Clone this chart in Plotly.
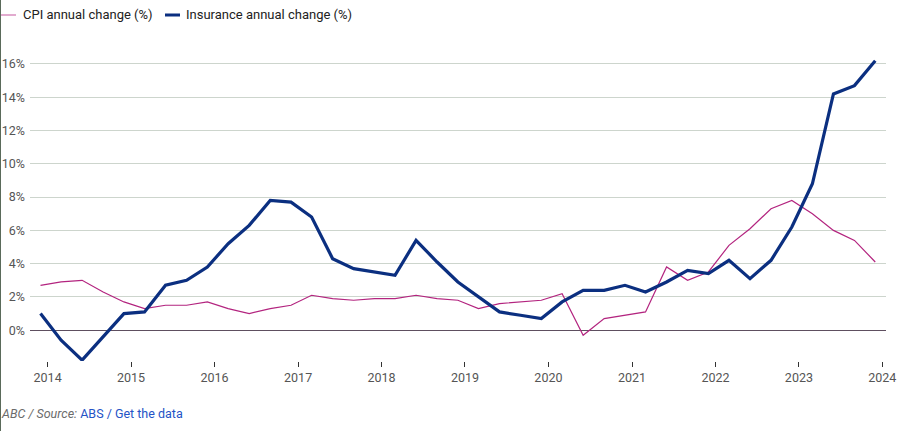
import pandas as pd
import plotly.graph_objects as go

# quarterly, plotted on the 1st of the quarter's last month
dates = pd.date_range("2013-12-01", "2023-12-01", freq="3MS")

cpi = [2.7, 2.9, 3.0, 2.3, 1.7, 1.3, 1.5, 1.5, 1.7, 1.3, 1.0, 1.3, 1.5,
       2.1, 1.9, 1.8, 1.9, 1.9, 2.1, 1.9, 1.8, 1.3, 1.6, 1.7, 1.8, 2.2,
       -0.3, 0.7, 0.9, 1.1, 3.8, 3.0, 3.5, 5.1, 6.1, 7.3, 7.8, 7.0, 6.0,
       5.4, 4.1]
insurance = [1.0, -0.6, -1.8, -0.4, 1.0, 1.1, 2.7, 3.0, 3.8, 5.2, 6.3, 7.8,
             7.7, 6.8, 4.3, 3.7, 3.5, 3.3, 5.4, 4.1, 2.9, 2.0, 1.1, 0.9, 0.7,
             1.7, 2.4, 2.4, 2.7, 2.3, 2.9, 3.6, 3.4, 4.2, 3.1, 4.2, 6.2, 8.8,
             14.2, 14.7, 16.2]

series_names = ["CPI annual change (%)", "Insurance annual change (%)"]
y_ticks = [0, 2, 4, 6, 8, 10, 12, 14, 16]
y_labels = [f"{v}%" for v in y_ticks]

CPI_COL = "#b3247f"
INS_COL = "#0b2f80"
FONT = "Roboto"

fig = go.Figure()
fig.add_trace(go.Scatter(x=dates, y=cpi, mode="lines", name=series_names[0],
                         line=dict(color=CPI_COL, width=1.2)))
fig.add_trace(go.Scatter(x=dates, y=insurance, mode="lines", name=series_names[1],
                         line=dict(color=INS_COL, width=3.2)))

W, H = 898, 431
ml, mr, mt, mb = 30, 12, 59, 70
pw = W - ml - mr
ph = H - mt - mb

def px_x(p):
    return (p - ml) / pw

def px_y(p):
    return (H - mb - p) / ph

fig.update_layout(
    width=W, height=H,
    margin=dict(l=ml, r=mr, t=mt, b=mb, autoexpand=False),
    plot_bgcolor="white", paper_bgcolor="white",
    showlegend=False,
    font=dict(family=FONT, size=12, color="#555555"),
    xaxis=dict(
        range=["2013-10-16", "2024-01-17"],
        tick0="2014-01-01", dtick="M12", tickformat="%Y",
        ticks="outside", ticklen=5, tickwidth=1, tickcolor="#333333",
        showgrid=False, showline=False, zeroline=False, automargin=False,
        ticklabeloverflow="allow",
        tickfont=dict(size=12.5, color="#555555"),
    ),
    yaxis=dict(
        range=[-1.85, 16.3],
        tickvals=y_ticks, ticktext=y_labels,
        showgrid=True, gridcolor="#cdd5cd", gridwidth=1,
        zeroline=True, zerolinecolor="#5e4f60", zerolinewidth=1.2,
        showline=False, ticks="", ticklabelstandoff=4, automargin=False,
        tickfont=dict(size=12.5, color="#555555"),
    ),
)

# hand-drawn legend (short line samples)
legend_y = px_y(15)
fig.add_shape(type="line", xref="paper", yref="paper",
              x0=px_x(0), x1=px_x(16), y0=legend_y, y1=legend_y,
              line=dict(color="#d98fbf", width=1.5))
fig.add_annotation(xref="paper", yref="paper", x=px_x(21), y=legend_y,
                   xanchor="left", yanchor="middle", showarrow=False,
                   text=series_names[0], font=dict(size=13, color="#222222"))
fig.add_shape(type="line", xref="paper", yref="paper",
              x0=px_x(165), x1=px_x(180), y0=legend_y, y1=legend_y,
              line=dict(color=INS_COL, width=3))
fig.add_annotation(xref="paper", yref="paper", x=px_x(184), y=legend_y,
                   xanchor="left", yanchor="middle", showarrow=False,
                   text=series_names[1], font=dict(size=13, color="#222222"))

# left border
fig.add_shape(type="line", xref="paper", yref="paper",
              x0=px_x(0.5), x1=px_x(0.5), y0=px_y(0), y1=px_y(H),
              line=dict(color="#5a6a5a", width=1))

# footer
fig.add_annotation(xref="paper", yref="paper", x=px_x(-1), y=px_y(413),
                   xanchor="left", yanchor="middle", showarrow=False,
                   text="<i>ABC / Source:</i> <span style='color:#2453c6'>ABS / Get the data</span>",
                   font=dict(size=12.5, color="#6b6b6b"))

# page body has a default 8px margin; drop it so the figure fills the window
fig.write_html("out.html", config={"displayModeBar": False},
               post_script="document.body.style.margin='0';"
                           "document.body.style.overflow='hidden';")
